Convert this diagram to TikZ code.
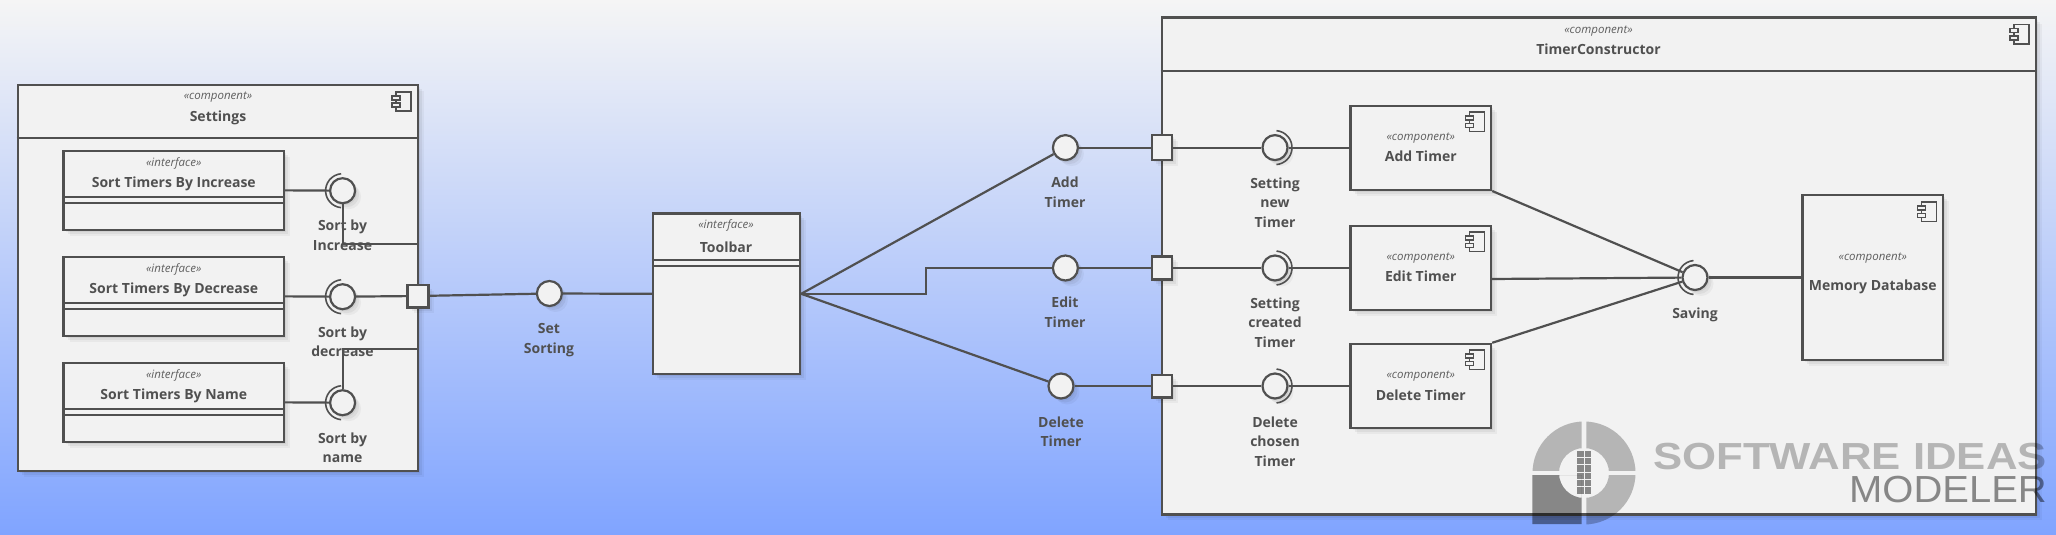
\documentclass[tikz,border=0pt]{standalone}
\usepackage{fontspec}
\setmainfont{Open Sans}
\newfontfamily\wmfont{Liberation Sans}
\usetikzlibrary{shadows}
\definecolor{inkgrey}{HTML}{505050}
\definecolor{stereogrey}{HTML}{5E5E5E}
\definecolor{boxfill}{HTML}{F2F2F2}
\definecolor{bgtop}{HTML}{F5F5F5}
\definecolor{bgbottom}{HTML}{80A4FF}
\tikzset{
    softshadow/.style={
        general shadow={fill=black,opacity=.05,shadow xshift=2pt,shadow yshift=-2pt},
        general shadow={fill=black,opacity=.05,shadow xshift=4pt,shadow yshift=-4pt},
        general shadow={fill=black,opacity=.04,shadow xshift=6pt,shadow yshift=-6pt}},
    boxnode/.style={draw=inkgrey,fill=boxfill,line width=2.4pt,rectangle,inner sep=0pt,softshadow},
    lolli/.style={draw=inkgrey,fill=boxfill,line width=2.2pt,circle,inner sep=0pt,minimum size=25pt,softshadow},
    portnode/.style={boxnode},
    wire/.style={draw=inkgrey,line width=2.2pt},
    socket/.style={draw=inkgrey,line width=1.6pt},
    rule/.style={draw=inkgrey,line width=2.2pt},
    stereo/.style={text=stereogrey,font=\fontsize{11.5}{14}\selectfont\itshape,inner sep=0pt},
    title/.style={text=inkgrey,font=\fontsize{14}{19.4}\selectfont\bfseries,inner sep=0pt},
    lbl/.style={title,align=center},
    wmdark/.style={fill=black,fill opacity=.44},
    wmlight/.style={fill=black,fill opacity=.25},
    pics/compicon/.style={code={
        \draw[inkgrey,line width=1.6pt] (4,0) rectangle (19,19.4);
        \draw[inkgrey,line width=1.6pt,fill=boxfill] (0,4) rectangle (8,8);
        \draw[inkgrey,line width=1.6pt,fill=boxfill] (0,11.4) rectangle (8,15.4);
    }}
}
\begin{document}
\begin{tikzpicture}[x=1pt,y=-1pt]
    \useasboundingbox (0,0) rectangle (2056,535);
    \shade[top color=bgtop,bottom color=bgbottom] (0,0) rectangle (2056,535);

    \node[boxnode,minimum width=400.2pt,minimum height=385.7pt] (settings) at (217.9,277.85) {};
    \draw[rule] (settings.west |- 0,137.7) -- (settings.east |- 0,137.7);
    \node[stereo] (settingsst) at (218,97.3) {«component»};
    \node[title] (settingsname) at (218,118) {Settings};
    \pic at (392,91.7) {compicon};

    \node[boxnode,minimum width=874.2pt,minimum height=496.6pt] (constructor) at (1599,266) {};
    \draw[rule] (constructor.west |- 0,71) -- (constructor.east |- 0,71);
    \node[stereo] (constructorst) at (1598.5,31) {«component»};
    \node[title] (constructorname) at (1598.5,49.5) {TimerConstructor};
    \pic at (2010,24.6) {compicon};

    \foreach \nm/\yc/\txt in {increase/190.35/Sort Timers By Increase,
            decrease/296.35/Sort Timers By Decrease,
            byname/402.35/Sort Timers By Name} {
        \node[boxnode,minimum width=220.4pt,minimum height=79.3pt] (\nm) at (173.8,\yc) {};
        \draw[rule] (\nm.west |- 0,\yc+6.65) -- (\nm.east |- 0,\yc+6.65);
        \draw[rule] (\nm.west |- 0,\yc+12.35) -- (\nm.east |- 0,\yc+12.35);
        \node[stereo] (\nm st) at (173.8,\yc-26.7) {«interface»};
        \node[title] (\nm name) at (173.8,\yc-6.3) {\txt};
    }

    \node[boxnode,minimum width=147pt,minimum height=160.4pt] (toolbar) at (726.5,293.8) {};
    \draw[rule] (toolbar.west |- 0,259.7) -- (toolbar.east |- 0,259.7);
    \draw[rule] (toolbar.west |- 0,265.9) -- (toolbar.east |- 0,265.9);
    \node[stereo] (toolbarst) at (726,225.3) {«interface»};
    \node[title] (toolbarname) at (726,247) {Toolbar};

    \foreach \nm/\yc/\txt in {addcomp/147.8/Add Timer,
            editcomp/267.8/Edit Timer,
            delcomp/386/Delete Timer} {
        \node[boxnode,minimum width=140.5pt,minimum height=84pt] (\nm) at (1420.75,\yc) {};
        \node[stereo] (\nm st) at (1420.75,\yc-10.1) {«component»};
        \node[title] (\nm name) at (1420.75,\yc+8.8) {\txt};
        \pic at (1465.6,\yc-35.8) {compicon};
    }

    \node[boxnode,minimum width=140.4pt,minimum height=165pt] (memory) at (1872.8,277.5) {};
    \node[stereo] (memoryst) at (1872.8,257.6) {«component»};
    \node[title] (memoryname) at (1872.8,287.3) {Memory Database};
    \pic at (1917.6,202) {compicon};

    \node[lbl] (lblincrease) at (342.5,235.4) {Sort by\\Increase};
    \node[lbl] (lbldecrease) at (342.5,341.6) {Sort by\\decrease};
    \node[lbl] (lblbyname) at (342.5,447.6) {Sort by\\name};
    \node[lbl] (lblset) at (549,340) {Set\\Sorting};
    \node[lbl] (lbladd) at (1065,192.3) {Add\\Timer};
    \node[lbl] (lbledit) at (1065,312.4) {Edit\\Timer};
    \node[lbl] (lbldelete) at (1061,431.7) {Delete\\Timer};
    \node[lbl] (lblnew) at (1275,202.6) {Setting\\new\\Timer};
    \node[lbl] (lblcreated) at (1275,322.7) {Setting\\created\\Timer};
    \node[lbl] (lblchosen) at (1275,441.5) {Delete\\chosen\\Timer};
    \node[lbl] (lblsaving) at (1695,314.5) {Saving};

    \coordinate (settingsup) at (418,243.7);
    \coordinate (settingsdown) at (418,348.7);
    \coordinate (editbend) at (925.8,268);
    \coordinate (editout) at (1491,279);

    \node[lolli] (lolincrease) at (342.6,190.7) {};
    \node[lolli] (loldecrease) at (342.6,296.7) {};
    \node[lolli] (lolbyname) at (342.6,402.7) {};
    \node[lolli] (lolset) at (549.4,293.5) {};
    \node[lolli] (loladd) at (1065.4,147.6) {};
    \node[lolli] (loledit) at (1065.4,268) {};
    \node[lolli] (loldelete) at (1061,386) {};
    \node[lolli] (lolnew) at (1275,147.6) {};
    \node[lolli] (lolcreated) at (1275,268) {};
    \node[lolli] (lolchosen) at (1275,386) {};
    \node[lolli] (lolsaving) at (1695,277.5) {};

    \node[portnode,minimum width=20.7pt,minimum height=22.6pt] (portset) at (418,296) {};
    \node[portnode,minimum width=20.3pt,minimum height=25pt] (portadd) at (1162,147.6) {};
    \node[portnode,minimum width=20.3pt,minimum height=23.2pt] (portedit) at (1162,268) {};
    \node[portnode,minimum width=20.3pt,minimum height=22.6pt] (portdelete) at (1162,386) {};

    \draw[wire] (increase.east) -- (lolincrease);
    \draw[wire] (lolincrease) |- (settingsup);
    \draw[wire] (decrease.east) -- (loldecrease);
    \draw[wire] (loldecrease) -- (portset);
    \draw[wire] (byname.east) -- (lolbyname);
    \draw[wire] (lolbyname) |- (settingsdown);
    \draw[wire] (portset) -- (lolset);
    \draw[wire] (lolset) -- (toolbar.west);
    \draw[wire] (toolbar.east) -- (loladd);
    \draw[wire] (toolbar.east) -| (editbend) -- (loledit);
    \draw[wire] (toolbar.east) -- (loldelete);
    \draw[wire] (loladd) -- (portadd);
    \draw[wire] (loledit) -- (portedit);
    \draw[wire] (loldelete) -- (portdelete);
    \draw[wire] (portadd) -- (lolnew);
    \draw[wire] (portedit) -- (lolcreated);
    \draw[wire] (portdelete) -- (lolchosen);
    \draw[wire] (lolnew) -- (addcomp.west |- lolnew);
    \draw[wire] (lolcreated) -- (editcomp.west |- lolcreated);
    \draw[wire] (lolchosen) -- (delcomp.west |- lolchosen);
    \draw[wire] (addcomp.south east) -- (lolsaving);
    \draw[wire] (editout) -- (lolsaving);
    \draw[wire] (delcomp.north east) -- (lolsaving);
    \draw[wire] (lolsaving) -- (memory.west |- lolsaving);

    \foreach \nm in {lolincrease,loldecrease,lolbyname,lolsaving}
        \draw[socket] (\nm.center) ++(265:17) arc (265:95:17);
    \foreach \nm in {lolnew,lolcreated,lolchosen}
        \draw[socket] (\nm.center) ++(-85:17) arc (-85:85:17);

    \foreach \xa/\ya/\xb/\yb in {1525/415/1581.7/470,1586.3/415/1645/470,1586.3/475/1645/530} {
        \begin{scope}
            \clip (\xa,\ya) rectangle (\xb,\yb);
            \fill[wmlight,even odd rule] (1584,473) circle (51.5) (1584,473) circle (25);
        \end{scope}
    }
    \begin{scope}
        \clip (1532.3,475) rectangle (1581.7,524);
        \fill[wmdark,even odd rule] (1532.3,475) rectangle (1581.7,524) (1584,473) circle (25);
    \end{scope}
    \foreach \yy in {0,1,2,3,4,5} {
        \fill[wmdark] (1577,450.7+7.3*\yy) rectangle (1583.6,457+7.3*\yy);
        \fill[wmdark] (1584.7,450.7+7.3*\yy) rectangle (1591.3,457+7.3*\yy);
    }
    \node[anchor=east,inner sep=0pt,text=black,text opacity=.25,xscale=1.16,transform shape,font=\wmfont\bfseries\fontsize{37.7}{40}\selectfont] (wmtop) at (2047,457) {SOFTWARE IDEAS};
    \node[anchor=east,inner sep=0pt,text=black,text opacity=.44,xscale=1.06,transform shape,font=\wmfont\fontsize{37.7}{40}\selectfont] (wmbottom) at (2047,490) {MODELER};
\end{tikzpicture}
\end{document}
